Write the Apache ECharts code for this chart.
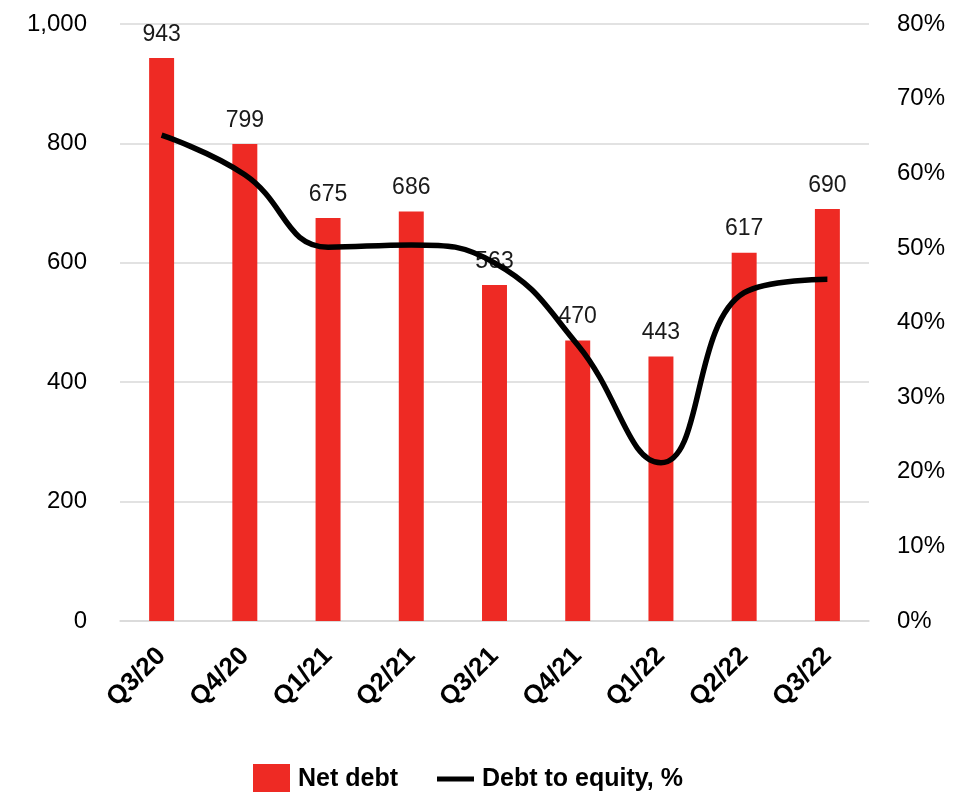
<!DOCTYPE html>
<html>
<head>
<meta charset="utf-8">
<script src="https://cdn.jsdelivr.net/npm/echarts@6/dist/echarts.min.js"></script>
<style>
  html, body { margin: 0; padding: 0; background: #ffffff; }
  #chart { width: 953px; height: 792px; }
</style>
</head>
<body>
<div id="chart"></div>
<script>
// Quarterly net debt (bars, left axis) and debt-to-equity ratio (line, right axis)
const quarters = ['Q3/20', 'Q4/20', 'Q1/21', 'Q2/21', 'Q3/21', 'Q4/21', 'Q1/22', 'Q2/22', 'Q3/22'];
const netDebt = [943, 799, 675, 686, 563, 470, 443, 617, 690];
const debtToEquity = [65.1, 59.8, 50.1, 50.4, 48.0, 37.0, 21.2, 44.0, 45.8];

const FONT = '"Liberation Sans", Arial, sans-serif';
const chart = echarts.init(document.getElementById('chart'), null, { renderer: 'canvas' });

chart.setOption({
  animation: false,
  backgroundColor: '#ffffff',
  textStyle: { fontFamily: FONT },
  grid: { left: 120, right: 84, top: 24, bottom: 171, containLabel: false },
  legend: {
    top: 759,
    left: 248,
    itemGap: 39,
    itemWidth: 37,
    itemHeight: 30,
    textStyle: { fontFamily: FONT, fontSize: 25, fontWeight: 'bold', color: '#000', padding: [0, 0, 0, 3] },
    data: [
      { name: 'Net debt', icon: 'rect' },
      { name: 'Debt to equity, %', icon: 'path://M0,0 L37,0 L37,5 L0,5 Z' }
    ]
  },
  xAxis: {
    type: 'category',
    data: quarters,
    axisLine: { show: true, lineStyle: { color: '#d9d9d9', width: 1.5 } },
    axisTick: { show: false },
    axisLabel: {
      rotate: 45,
      margin: 31,
      fontFamily: FONT,
      fontSize: 26,
      fontWeight: 'bold',
      color: '#000'
    }
  },
  yAxis: [
    {
      type: 'value',
      min: 0,
      max: 1000,
      interval: 200,
      axisLine: { show: false },
      axisTick: { show: false },
      splitLine: { lineStyle: { color: '#d9d9d9', width: 1.5 } },
      axisLabel: {
        margin: 33,
        fontFamily: FONT,
        fontSize: 24,
        color: '#000',
        formatter: v => v.toLocaleString('en-US')
      }
    },
    {
      type: 'value',
      min: 0,
      max: 80,
      interval: 10,
      axisLine: { show: false },
      axisTick: { show: false },
      splitLine: { show: false },
      axisLabel: {
        margin: 28,
        fontFamily: FONT,
        fontSize: 24,
        color: '#000',
        formatter: v => v + '%'
      }
    }
  ],
  series: [
    {
      name: 'Net debt',
      type: 'bar',
      data: netDebt,
      barWidth: '30%',
      itemStyle: { color: '#ee2a24' },
      label: {
        show: true,
        position: 'top',
        distance: 12,
        fontFamily: FONT,
        fontSize: 23,
        color: '#1a1a1a'
      },
      z: 2
    },
    {
      name: 'Debt to equity, %',
      type: 'line',
      yAxisIndex: 1,
      data: debtToEquity,
      smooth: 0.45,
      symbol: 'none',
      lineStyle: { color: '#000000', width: 5.5 },
      itemStyle: { color: '#000000' },
      z: 3
    }
  ]
});
</script>
</body>
</html>
